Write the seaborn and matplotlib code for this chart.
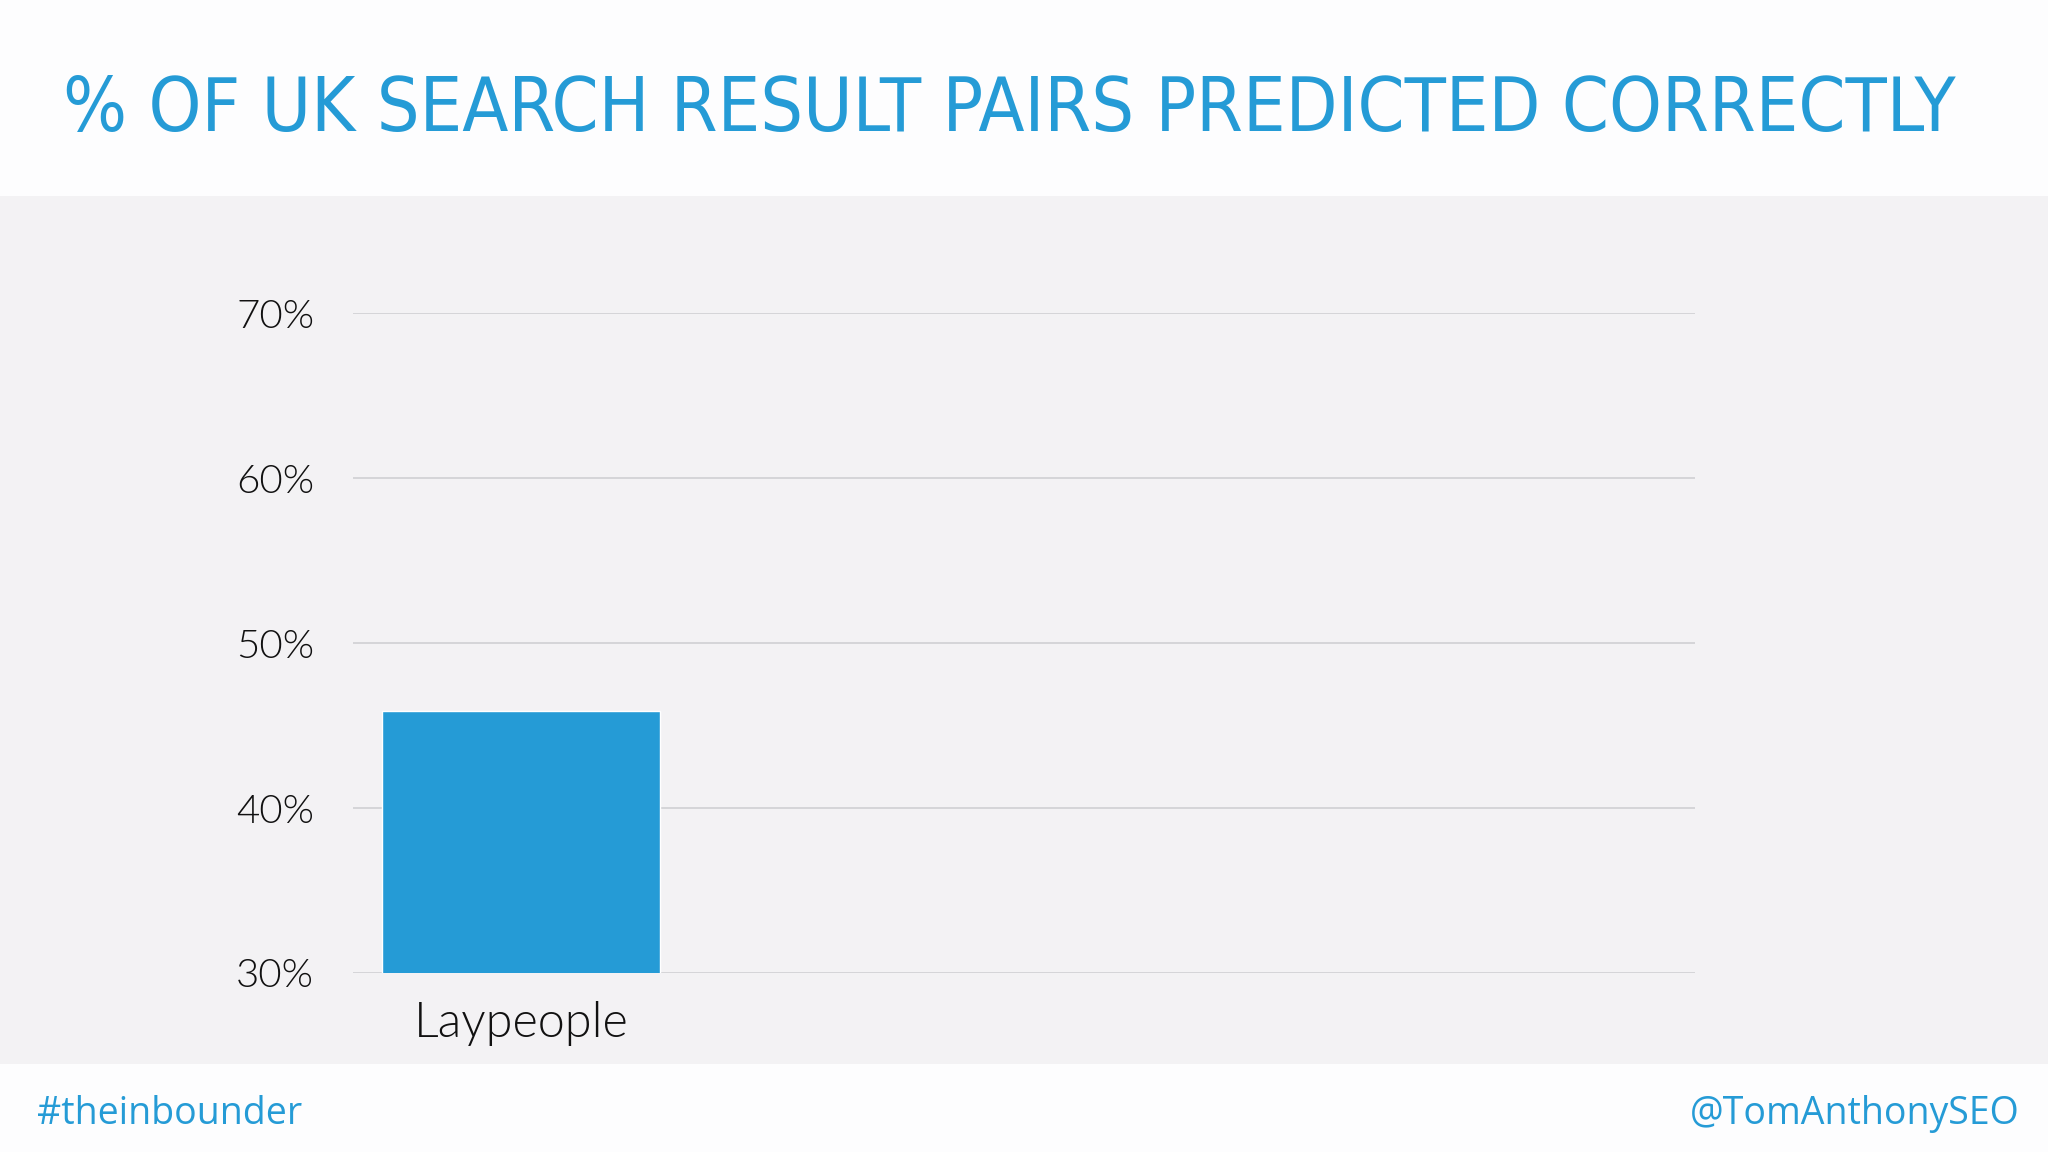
import matplotlib
matplotlib.use("Agg")
import matplotlib.pyplot as plt
import seaborn as sns
import pandas as pd
from matplotlib.patches import Rectangle

sns.set_style("white")

# data
categories = ["Laypeople"]
pct_correct = [45.9]
y_ticks = [30, 40, 50, 60, 70]
y_tick_labels = ["30%", "40%", "50%", "60%", "70%"]
n_slots = 4  # chart leaves room for more groups

title = "% OF UK SEARCH RESULT PAIRS PREDICTED CORRECTLY"
blue = "#259bd6"
panel_grey = "#f3f2f4"

df = pd.DataFrame({"group": categories, "pct": pct_correct})

fig = plt.figure(figsize=(20.48, 11.52), dpi=100)
fig.patch.set_facecolor("#fdfdfe")

# grey band behind the chart
fig.patches.append(Rectangle((0, 0.0764), 1, 0.7535, transform=fig.transFigure,
                             facecolor=panel_grey, edgecolor="none", zorder=-10))

ax = fig.add_axes([0.1724, 0.1554, 0.6553, 0.5725])
ax.set_zorder(2)
ax.patch.set_alpha(0)

sns.barplot(data=df, x="group", y="pct", ax=ax, color=blue, width=0.83,
            saturation=1, zorder=3)

ax.set_xlim(-0.5, n_slots - 0.5)
ax.set_ylim(30, 70)
ax.set_yticks(y_ticks)
ax.set_yticklabels(y_tick_labels)
ax.yaxis.grid(True, color="#d2d2d6", linewidth=1.3, zorder=0)
ax.set_axisbelow(True)
for s in ax.spines.values():
    s.set_visible(False)
ax.tick_params(axis="y", length=0, pad=28, labelsize=29, labelcolor="#111111")
ax.tick_params(axis="x", length=0, pad=20, labelsize=35, labelcolor="#111111")
for lab in ax.get_yticklabels() + ax.get_xticklabels():
    lab.set_family(["Lato", "DejaVu Sans"])
    lab.set_fontweight(300)
ax.set_xlabel("")
ax.set_ylabel("")

fig.text(0.031, 0.9045, title, color=blue, fontsize=54, fontstretch="condensed",
         family=["DejaVu Sans"], va="center", ha="left")

fig.text(0.018, 0.033, "#theinbounder", color=blue, fontsize=27,
         family=["Open Sans", "DejaVu Sans"], va="center", ha="left")
fig.text(0.986, 0.033, "@TomAnthonySEO", color=blue, fontsize=27,
         family=["Open Sans", "DejaVu Sans"], va="center", ha="right")

fig.savefig("out.png", dpi=100, facecolor=fig.get_facecolor())
